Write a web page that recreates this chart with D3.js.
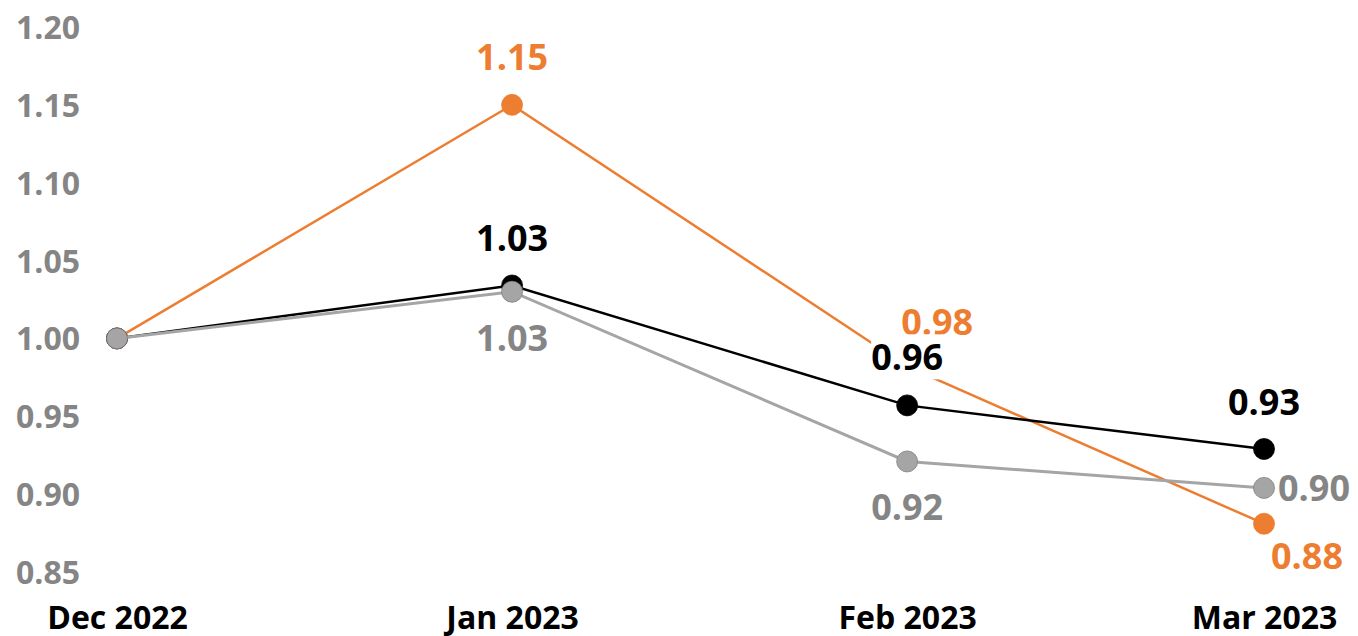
<!DOCTYPE html>
<html>
<head>
<meta charset="utf-8">
<script src="https://cdn.jsdelivr.net/npm/d3@7"></script>
<style>
  body { margin: 0; background: #fff; }
  svg { display: block; font-family: "Open Sans", "DejaVu Sans", sans-serif; font-weight: bold; }
</style>
</head>
<body>
<svg id="chartSVG" width="1358" height="636"></svg>
<script>
// month starts (date axis, so Feb is shorter)
var months = ['2022-12-01', '2023-01-01', '2023-02-01', '2023-03-01'];
var yTicks = [0.85, 0.90, 0.95, 1.00, 1.05, 1.10, 1.15, 1.20];

var orangeVals = [1.00, 1.15, 0.982, 0.881];
var blackVals = [1.00, 1.034, 0.957, 0.929];
var grayVals = [1.00, 1.030, 0.921, 0.904];

var series = [
  { name: 'orange', values: orangeVals, color: '#ED7D31', text: '#ED7D31', width: 2.5 },
  { name: 'black', values: blackVals, color: '#000000', text: '#000000', width: 2.5 },
  { name: 'gray', values: grayVals, color: '#A5A5A5', text: '#858585', width: 3 }
];

// where each data label sits relative to its point [dx, dy], null = no label
var labelOffsets = {
  orange: [null, [0, -48], [30, -44], [43, 32]],
  black: [null, [0, -47], [0, -48], [0, -47]],
  gray: [null, [0, 46], [0, 46], ['right', 0]]
};

var parse = d3.timeParse('%Y-%m-%d');
var dates = months.map(parse);

var svg = d3.select('#chartSVG');

var x = d3.scaleTime()
  .domain([dates[0], dates[dates.length - 1]])
  .range([117, 1264]);

var y = d3.scaleLinear()
  .domain([0.85, 1.20])
  .range([572, 27]);

// y axis labels only
var yAxis = svg.append('g')
  .attr('transform', 'translate(80,0)')
  .call(d3.axisLeft(y).tickValues(yTicks).tickFormat(d3.format('.2f')).tickSize(0).tickPadding(0));
yAxis.select('.domain').remove();
yAxis.selectAll('text')
  .attr('fill', '#858585')
  .style('font-size', '32px')
  .style('font-family', '"Open Sans", sans-serif')
  .style('font-weight', 'bold')
  .attr('dy', '0.36em');

// x axis labels
var xAxis = svg.append('g')
  .attr('transform', 'translate(0,617)')
  .call(d3.axisBottom(x).tickValues(dates).tickFormat(d3.timeFormat('%b %Y')).tickSize(0).tickPadding(0));
xAxis.select('.domain').remove();
xAxis.selectAll('text')
  .attr('fill', '#000')
  .attr('y', 0)
  .attr('dy', '0.36em')
  .style('font-size', '32px')
  .style('font-family', '"Open Sans", sans-serif')
  .style('font-weight', 'bold');

var line = d3.line()
  .x(function(d, i) { return x(dates[i]); })
  .y(function(d) { return y(d); });

series.forEach(function(s) {
  var g = svg.append('g').attr('class', 'series-' + s.name);
  g.append('path')
    .datum(s.values)
    .attr('d', line)
    .attr('fill', 'none')
    .attr('stroke', s.color)
    .attr('stroke-width', s.width);
  g.selectAll('circle')
    .data(s.values)
    .enter()
    .append('circle')
    .attr('cx', function(d, i) { return x(dates[i]); })
    .attr('cy', function(d) { return y(d); })
    .attr('r', 10.5)
    .attr('fill', s.color)
    .attr('stroke', s.name === 'gray' ? '#7f7f7f' : s.color)
    .attr('stroke-width', 0.8);
});

// data labels on top, with white boxes behind them
var labelG = svg.append('g').attr('class', 'labels');
series.forEach(function(s) {
  s.values.forEach(function(v, i) {
    var off = labelOffsets[s.name][i];
    if (!off) return;
    var px = x(dates[i]), py = y(v);
    var lg = labelG.append('g');
    var t = lg.append('text')
      .attr('fill', s.text)
      .style('font-size', '36px')
      .attr('dy', '0.36em')
      .text(d3.format('.2f')(v));
    if (off[0] === 'right') {
      t.attr('x', px + 14).attr('y', py + off[1]).attr('text-anchor', 'start');
    } else {
      t.attr('x', px + off[0]).attr('y', py + off[1]).attr('text-anchor', 'middle');
    }
    var bb = t.node().getBBox();
    lg.insert('rect', 'text')
      .attr('x', bb.x)
      .attr('y', bb.y + 2)
      .attr('width', bb.width)
      .attr('height', bb.height - 4)
      .attr('fill', '#fff');
  });
});
</script>
</body>
</html>
